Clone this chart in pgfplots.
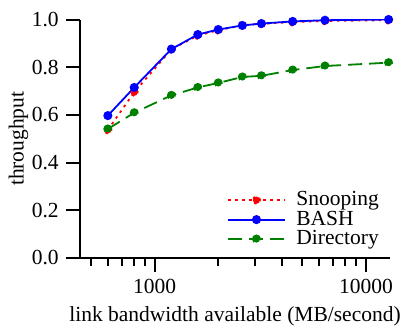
\documentclass[border=0pt]{standalone}
\usepackage{pgfplots}
\pgfplotsset{compat=1.18}
\usepackage{fontspec}
\setmainfont{Liberation Serif}
\definecolor{dgreen}{RGB}{0,128,0}
\newcommand{\tf}{\rmfamily\fontsize{21.5}{25}\selectfont}
\begin{document}
\tf
\begin{tikzpicture}
\begin{axis}[
  scale only axis, width=310pt, height=238.5pt,
  xmode=log, xmin=443, xmax=13000, ymin=0, ymax=1,
  axis x line*=bottom, axis y line*=left,
  axis line style={line width=2.5pt},
  tick style={line width=2pt, black},
  tick align=outside, major tick length=14pt, minor tick length=8pt,
  ytick={0,0.2,0.4,0.6,0.8,1.0},
  yticklabels={\textrm{0.0},\textrm{0.2},\textrm{0.4},\textrm{0.6},\textrm{0.8},\textrm{1.0}},
  xtick={1000,10000}, xticklabels={\textrm{1000},\textrm{10000}},
  minor xtick={500,600,700,800,900,2000,3000,4000,5000,6000,7000,8000,9000},
  ticklabel style={font=\tf},
  label style={font=\tf},
  xlabel={link bandwidth available (MB/second)},
  ylabel={throughput},
  xlabel style={yshift=2pt},
  ylabel style={yshift=-11pt},
  legend style={draw=none, fill=none, at={(1,0)}, anchor=south east, xshift=-6pt, yshift=6pt,
    font=\tf, row sep=-2pt},
  legend cell align=left,
  legend image code/.code={\draw[mark repeat=2,mark phase=2] plot coordinates {(0cm,0cm) (1cm,0cm) (2cm,0cm)};\path (2.3cm,0cm);},
  every axis plot/.append style={line width=1.8pt, mark=*, mark size=3.6pt, mark options={solid}},
]
\addplot[red, dash pattern=on 2.5pt off 4.5pt, mark options={fill=red, draw=red}] coordinates {
(600,0.537) (800,0.695) (1200,0.875) (1600,0.933) (2000,0.955) (2600,0.976) (3200,0.982) (4500,0.989) (6400,0.994) (12800,0.997)};
\addlegendentry{Snooping}
\addplot[blue, mark options={fill=blue, draw=blue}] coordinates {
(600,0.597) (800,0.715) (1200,0.876) (1600,0.937) (2000,0.958) (2600,0.975) (3200,0.983) (4500,0.992) (6400,0.997) (12800,1.0)};
\addlegendentry{BASH}
\addplot[dgreen, dash pattern=on 14pt off 7pt, mark options={fill=dgreen, draw=dgreen}] coordinates {
(600,0.541) (800,0.609) (1200,0.682) (1600,0.715) (2000,0.734) (2600,0.759) (3200,0.764) (4500,0.788) (6400,0.805) (12800,0.819)};
\addlegendentry{Directory}
\coordinate (O) at (rel axis cs:0,0);
\coordinate (T) at (rel axis cs:1,1);
\end{axis}
\pgfresetboundingbox
\path ([xshift=-80pt,yshift=-72pt]O) rectangle ([xshift=13pt,yshift=19.5pt]T);
\end{tikzpicture}
\end{document}
